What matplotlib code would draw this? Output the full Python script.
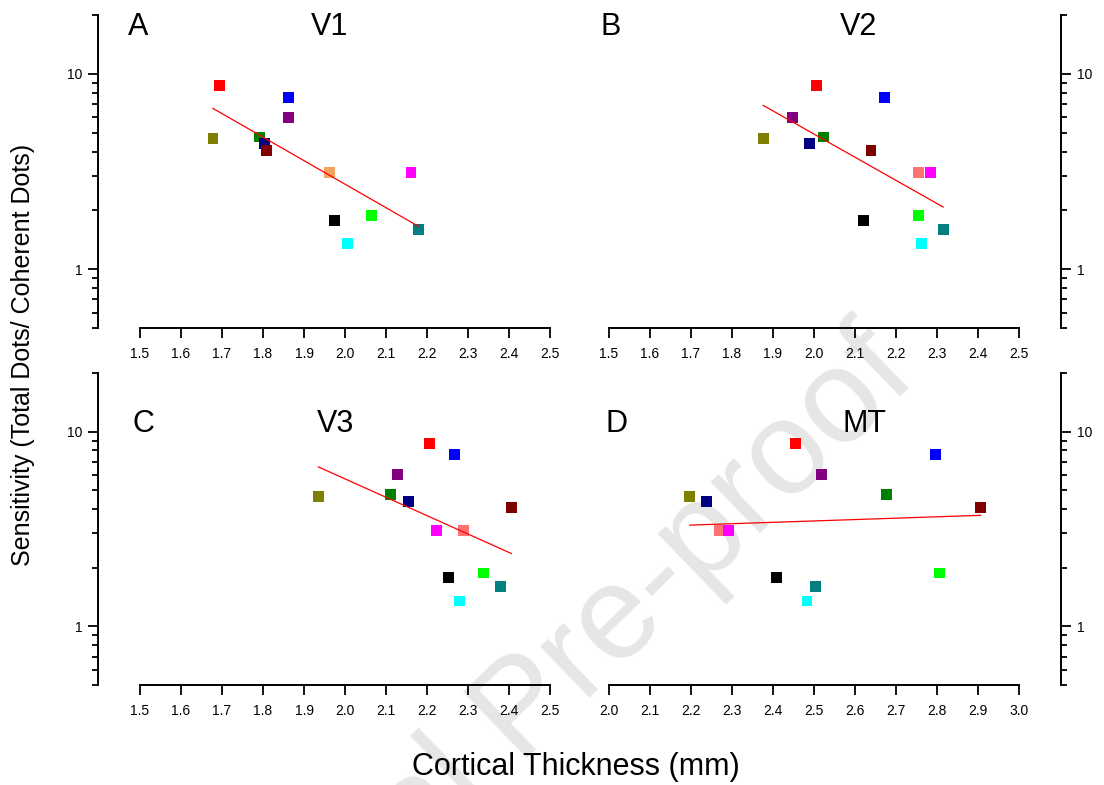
import matplotlib
matplotlib.use("Agg")
import matplotlib.pyplot as plt
from matplotlib.ticker import FixedLocator, NullFormatter, FixedFormatter
import numpy as np

plt.rcParams["font.family"] = ["Liberation Sans", "DejaVu Sans"]

# one entry per subject, same order everywhere
COLORS = ["#ff0000", "#0000ff", "#800080", "#808000", "#008000", "#000080", "#800000",
          "#ff7272", "#ff00ff", "#00ff00", "#000000", "#008080", "#00ffff"]
COLOR_V1_8 = "#f4a460"  # subject 8 drawn in sandy brown in the V1 panel
SENS = [8.7, 7.6, 6.0, 4.66, 4.75, 4.4, 4.06, 3.11, 3.12, 1.88, 1.78, 1.60, 1.35]

THICK_V1 = [1.693, 1.863, 1.863, 1.678, 1.792, 1.803, 1.809, 1.963, 2.161, 2.065, 1.974, 2.180, 2.006]
THICK_V2 = [2.007, 2.171, 1.947, 1.876, 2.024, 1.988, 2.139, 2.254, 2.285, 2.254, 2.121, 2.315, 2.263]
THICK_V3 = [2.205, 2.267, 2.128, 1.935, 2.111, 2.154, 2.406, 2.289, 2.224, 2.338, 2.253, 2.380, 2.280]
THICK_MT = [2.456, 2.797, 2.518, 2.197, 2.677, 2.238, 2.906, 2.269, 2.292, 2.805, 2.408, 2.503, 2.483]

PANELS = [("A", "V1", THICK_V1, (1.5, 2.5)),
          ("B", "V2", THICK_V2, (1.5, 2.5)),
          ("C", "V3", THICK_V3, (1.5, 2.5)),
          ("D", "MT", THICK_MT, (2.0, 3.0))]

W, H = 1104, 785
fig = plt.figure(figsize=(W / 100, H / 100), dpi=100)

# pixel boxes: left, top, right, bottom
boxes = [(140, 15, 550, 328), (609, 15, 1019, 328),
         (140, 373, 550, 685), (609, 373, 1019, 685)]
letter_xy = [(138.5, 35), (611, 35), (143.5, 432), (616.5, 432)]
name_xy = [(329.5, 35), (858, 35), (336, 432), (864.5, 432)]

minor = [0.5, 0.6, 0.7, 0.8, 0.9, 2, 3, 4, 5, 6, 7, 8, 9, 20]

for i, (letter, name, thick, xlim) in enumerate(PANELS):
    l, t, r, b = boxes[i]
    ax = fig.add_axes([l / W, 1 - b / H, (r - l) / W, (b - t) / H])
    ax.set_facecolor("none")
    cols = list(COLORS)
    if name == "V1":
        cols[7] = COLOR_V1_8
    ax.scatter(thick, SENS, marker="s", s=62, c=cols, edgecolors="none", zorder=3)

    # regression of log sensitivity on thickness, over the data range
    x = np.array(thick)
    p = np.polyfit(x, np.log10(SENS), 1)
    xs = np.array([x.min(), x.max()])
    ax.plot(xs, 10 ** np.polyval(p, xs), color="red", lw=0.9, zorder=4)

    ax.set_yscale("log")
    ax.set_ylim(0.5, 20)
    ax.set_xlim(*xlim)
    ax.set_xticks(np.round(np.arange(xlim[0], xlim[1] + 0.01, 0.1), 1))
    ax.set_xticklabels([f"{v:.1f}" for v in ax.get_xticks()])
    ax.yaxis.set_major_locator(FixedLocator([1, 10]))
    ax.yaxis.set_major_formatter(FixedFormatter(["1", "10"]))
    ax.yaxis.set_minor_locator(FixedLocator(minor))
    ax.yaxis.set_minor_formatter(NullFormatter())

    side = "left" if i % 2 == 0 else "right"
    other = "right" if side == "left" else "left"
    ax.spines["top"].set_visible(False)
    ax.spines[other].set_visible(False)
    ax.spines[side].set_position(("outward", 30))
    for s in ("bottom", side):
        ax.spines[s].set_linewidth(1.4)
    if side == "right":
        ax.yaxis.tick_right()
    ax.tick_params(axis="both", which="major", direction="out", length=7.5, width=1.3,
                   labelsize=10, pad=4)
    ax.tick_params(axis="y", which="minor", direction="out", length=4, width=1.3)
    ax.tick_params(axis="x", pad=6)

    fig.text(letter_xy[i][0] / W, 1 - letter_xy[i][1] / H, letter, fontsize=22,
             ha="center", va="baseline")
    fig.text(name_xy[i][0] / W, 1 - name_xy[i][1] / H, name, fontsize=22,
             ha="center", va="baseline")

fig.text(575.5 / W, 1 - 775 / H, "Cortical Thickness (mm)", fontsize=22,
         ha="center", va="baseline")
fig.text(23 / W, 1 - 355 / H, "Sensitivity (Total Dots/ Coherent Dots)", fontsize=18,
         ha="center", va="center", rotation=90)

# journal watermark, behind everything
fig.text(525 / W, 1 - 712 / H, "Journal Pre-proof", fontsize=96, color="#e6e6e6",
         ha="center", va="center", rotation=44, zorder=-1)

fig.savefig("out.png", dpi=100)
